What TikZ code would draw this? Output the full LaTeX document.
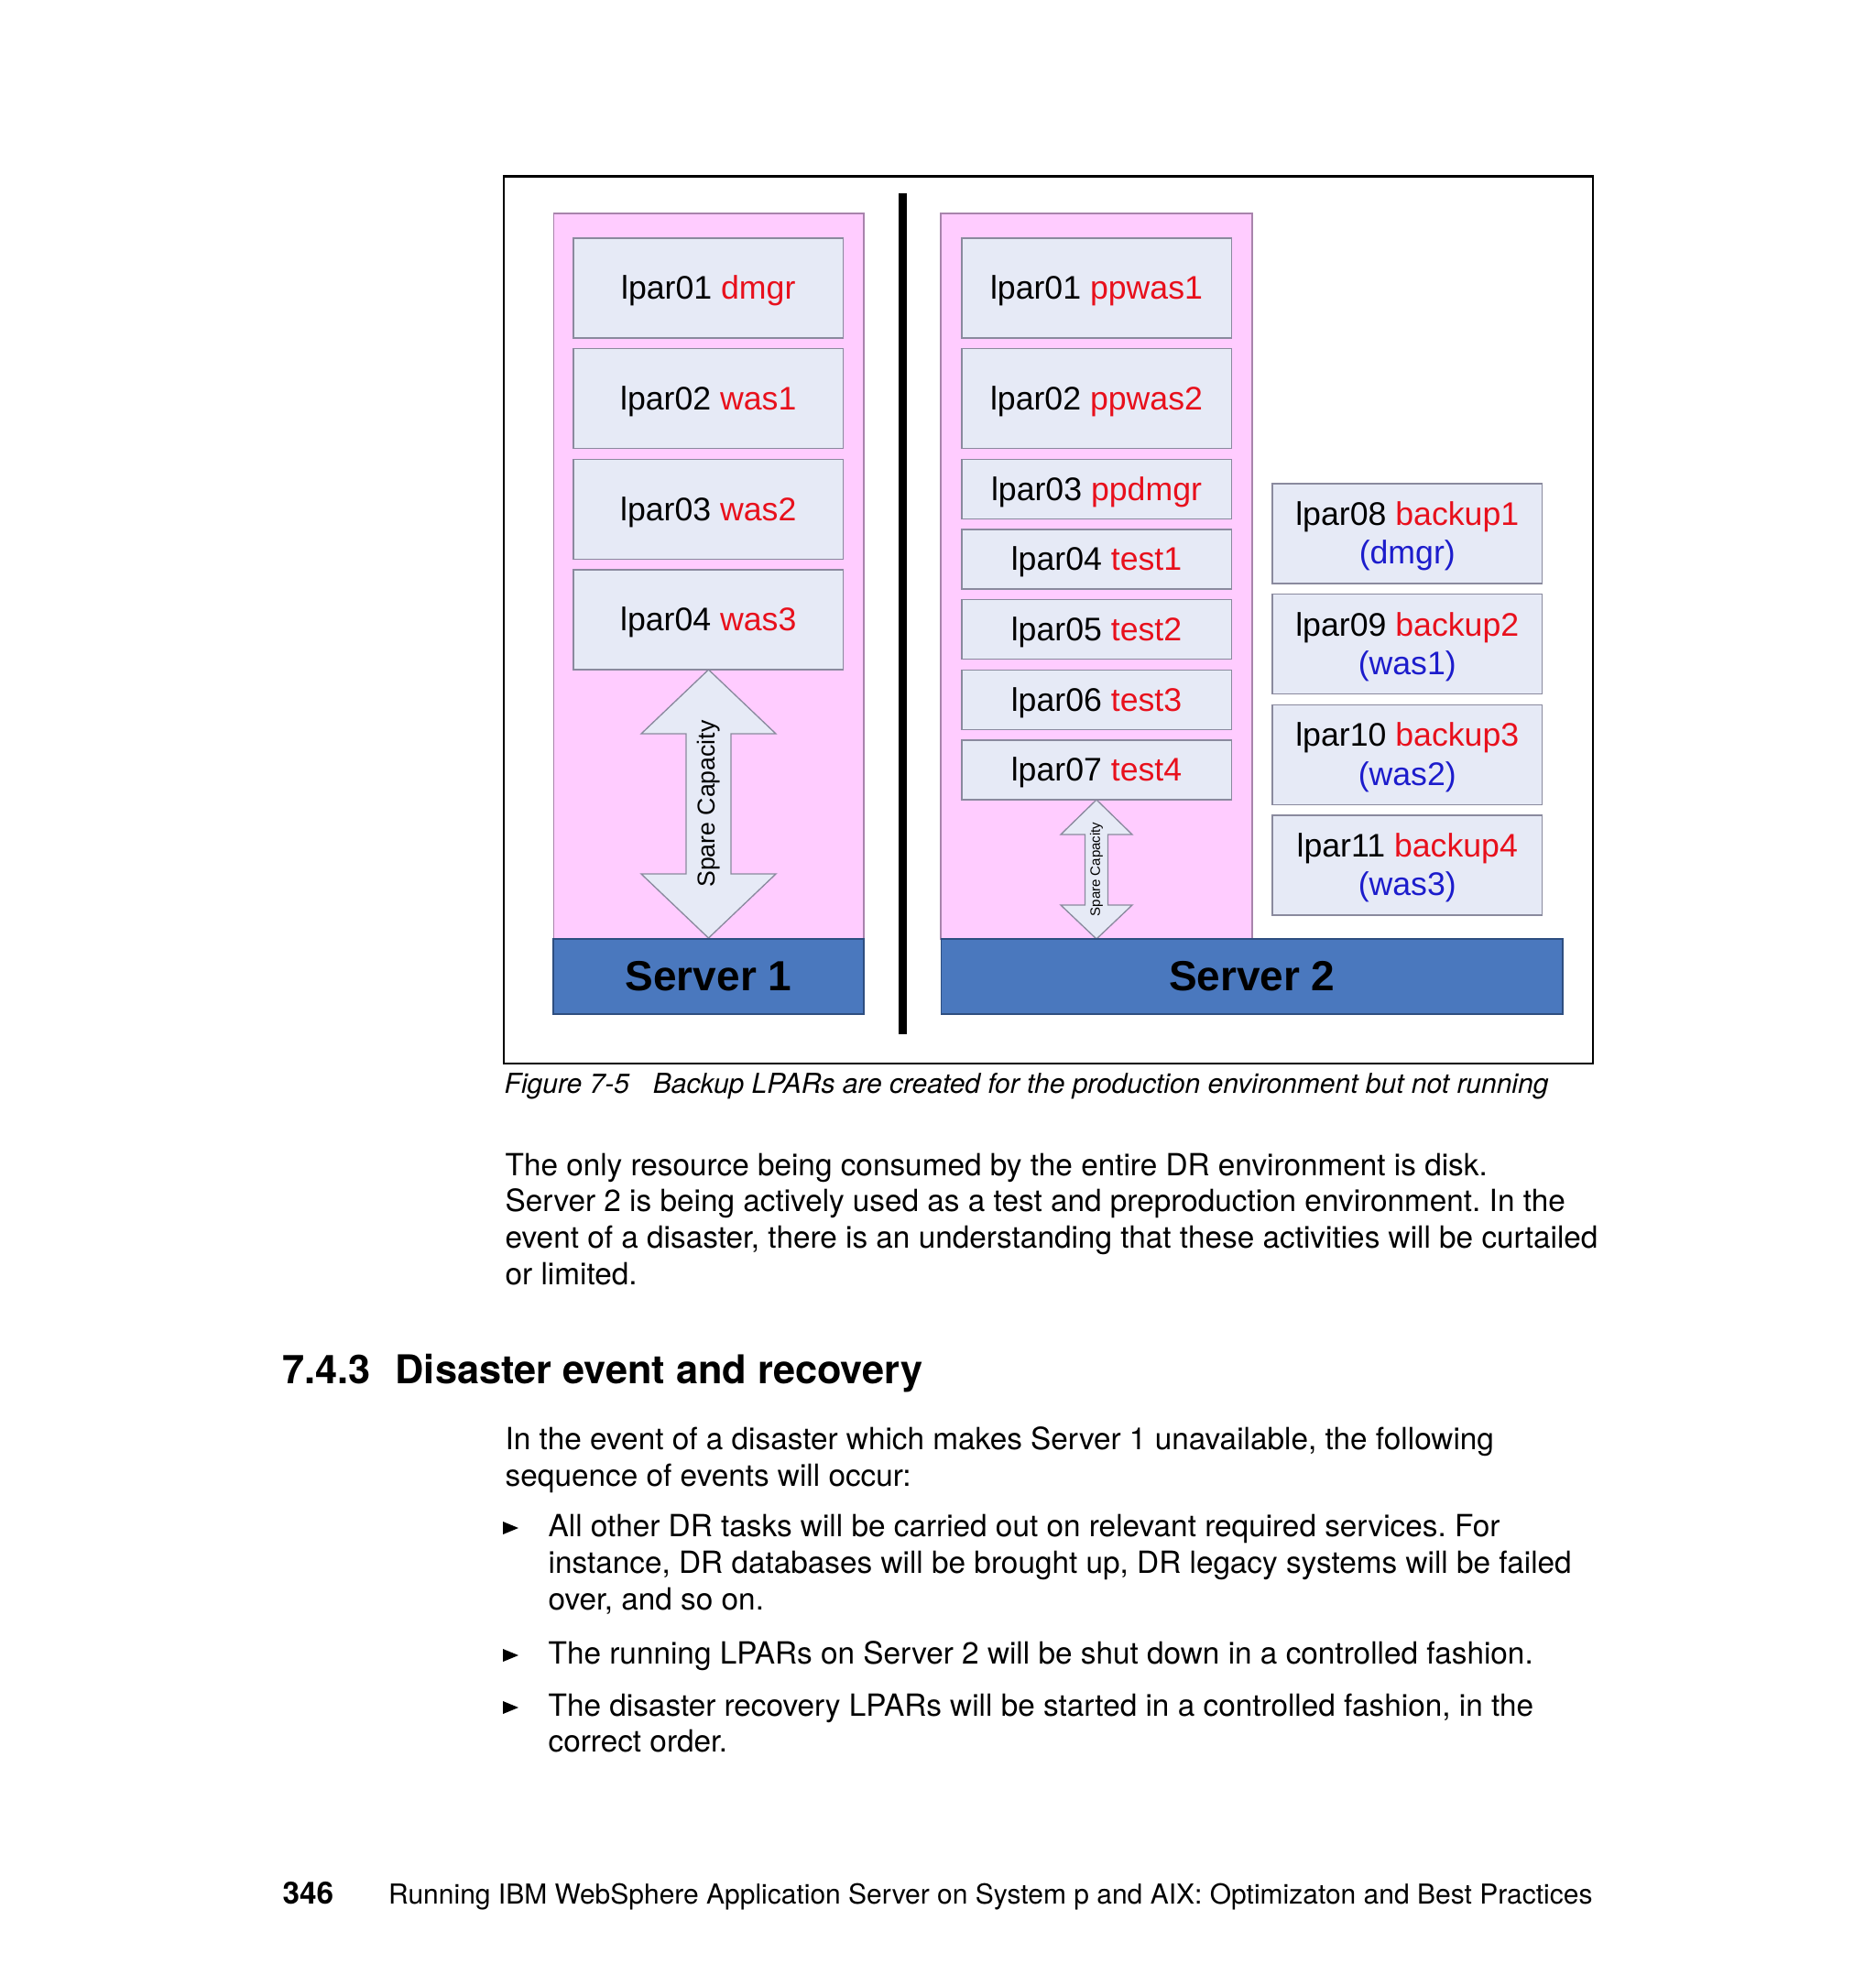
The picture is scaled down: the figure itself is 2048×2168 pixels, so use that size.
\documentclass[tikz,border=0pt]{standalone}
\usepackage{fontspec}
\setmainfont{TeX Gyre Heros}
\newfontfamily\arialfont{Liberation Sans}
\usetikzlibrary{positioning}
\frenchspacing

\definecolor{panelpink}{HTML}{FFCCFF}
\definecolor{panelline}{HTML}{A884AC}
\definecolor{boxfill}{HTML}{E6EAF6}
\definecolor{boxline}{HTML}{8A8A9E}
\definecolor{serverblue}{HTML}{4A78BE}
\definecolor{serverline}{HTML}{2E4E80}
\definecolor{lparred}{HTML}{E8101C}
\definecolor{lparblue}{HTML}{1C1CCC}

\tikzset{
  lpar/.style={draw=boxline, fill=boxfill, line width=0.4pt, inner sep=0pt, outer sep=0pt,
    minimum width=88.3pt, align=center, font=\arialfont\fontsize{10.7}{12.7}\selectfont,
    execute at begin node=\rule[-0.212em]{0pt}{1.117em}},
  tallbox/.style={lpar, minimum height=32.7pt},
  flatbox/.style={lpar, minimum height=19.5pt},
  panel/.style={fill=panelpink, draw=panelline, line width=0.4pt},
  serverbar/.style={fill=serverblue, draw=serverline, line width=0.5pt, inner sep=0pt,
    minimum height=24.6pt, font=\arialfont\bfseries\fontsize{13.8}{16}\selectfont},
  sparearrow/.style={fill=boxfill, draw=boxline, line width=0.4pt},
  bodytext/.style={anchor=base west, inner sep=0pt, font=\fontsize{10}{12}\selectfont},
}
\newcommand{\red}[1]{\textcolor{lparred}{#1}}
\newcommand{\blu}[1]{\textcolor{lparblue}{#1}}
\newcommand{\backuptext}[3]{\rule{0pt}{0.89em}lpar#1 \red{#2}\\\blu{(#3)}}

\begin{document}
\begin{tikzpicture}[x=0.3pt,y=-0.3pt]
\fill[white] (0,0) rectangle (2048,2168);
\draw[line width=0.7pt] (550,192.5) rectangle (1739,1161);
\draw[line width=2.7pt] (985.5,211) -- (985.5,1129);
% server 1
\draw[panel] (604.5,233) rectangle (943,1025);
\node[tallbox] (l1) at (773.25,314.5) {lpar01 \red{dmgr}};
\node[tallbox, below=3.5pt of l1] (l2) {lpar02 \red{was1}};
\node[tallbox, below=3.5pt of l2] (l3) {lpar03 \red{was2}};
\node[tallbox, below=3.5pt of l3] (l4) {lpar04 \red{was3}};
\draw[sparearrow] (773.5,731) -- (847,801) -- (798,801) -- (798,954) -- (847,954) -- (773.5,1024)
  -- (700,954) -- (749,954) -- (749,801) -- (700,801) -- cycle;
\node[rotate=90, font=\arialfont\fontsize{8}{9}\selectfont] (spare1) at (773.5,877.5) {Spare Capacity};
\node[serverbar, minimum width=101.7pt] (server1) at (773.5,1066) {Server 1};
% server 2
\draw[panel] (1027,233) rectangle (1367,1025);
\node[tallbox] (r1) at (1197,314.5) {lpar01 \red{ppwas1}};
\node[tallbox, below=3.5pt of r1] (r2) {lpar02 \red{ppwas2}};
\node[flatbox, below=3.5pt of r2] (r3) {lpar03 \red{ppdmgr}};
\node[flatbox, below=3.5pt of r3] (r4) {lpar04 \red{test1}};
\node[flatbox, below=3.5pt of r4] (r5) {lpar05 \red{test2}};
\node[flatbox, below=3.5pt of r5] (r6) {lpar06 \red{test3}};
\node[flatbox, below=3.5pt of r6] (r7) {lpar07 \red{test4}};
\draw[sparearrow] (1197,873) -- (1236,911) -- (1209.5,911) -- (1209.5,988) -- (1236,988) -- (1197,1025)
  -- (1158,988) -- (1184.5,988) -- (1184.5,911) -- (1158,911) -- cycle;
\node[rotate=90, font=\arialfont\fontsize{4.5}{5}\selectfont] (spare2) at (1197,949) {Spare Capacity};
\node[tallbox] (b1) at (1536.25,582.5) {\backuptext{08}{backup1}{dmgr}};
\node[tallbox, below=3.5pt of b1] (b2) {\backuptext{09}{backup2}{was1}};
\node[tallbox, below=3.5pt of b2] (b3) {\backuptext{10}{backup3}{was2}};
\node[tallbox, below=3.5pt of b3] (b4) {\backuptext{11}{backup4}{was3}};
\node[serverbar, minimum width=203.5pt] (server2) at (1366.8,1066) {Server 2};
% page text
\node[bodytext, font=\itshape\fontsize{9}{11}\selectfont] (caption) at (550,1193)
  {Figure 7-5\hspace{7.8pt}Backup LPARs are created for the production environment but not running};
\foreach \txt [count=\i] in {The only resource being consumed by the entire DR environment is disk.,
  Server 2 is being actively used as a test and preproduction environment. In the,
  {event of a disaster, there is an understanding that these activities will be curtailed},
  or limited.}
  \node[bodytext] (para\i) at (551,{1283+39.7*(\i-1)}) {\txt};
\node[bodytext, font=\bfseries\fontsize{13}{15}\selectfont] (secnum) at (308,1510) {7.4.3};
\node[bodytext, font=\bfseries\fontsize{13}{15}\selectfont] (sectitle) at (431,1510) {Disaster event and recovery};
\node[bodytext] (intro1) at (551,1582) {In the event of a disaster which makes Server 1 unavailable, the following};
\node[bodytext] (intro2) at (551,1622) {sequence of events will occur:};
\foreach \by in {1677,1816,1873}
  \fill (549,\by-16) -- (566,\by-9) -- (549,\by-2) -- cycle;
\node[bodytext] (item1a) at (598,1677) {All other DR tasks will be carried out on relevant required services. For};
\node[bodytext] (item1b) at (598,1717) {instance, DR databases will be brought up, DR legacy systems will be failed};
\node[bodytext] (item1c) at (598,1757) {over, and so on.};
\node[bodytext] (item2) at (598,1816) {The running LPARs on Server 2 will be shut down in a controlled fashion.};
\node[bodytext] (item3a) at (598,1873) {The disaster recovery LPARs will be started in a controlled fashion, in the};
\node[bodytext] (item3b) at (598,1912) {correct order.};
\node[bodytext, font=\bfseries\fontsize{10}{12}\selectfont] (pagenum) at (308,2078) {346};
\node[bodytext, font=\fontsize{9}{11}\selectfont] (footer) at (423.5,2078)
  {Running IBM WebSphere Application Server on System p and AIX: Optimizaton and Best Practices};
\end{tikzpicture}
\end{document}
